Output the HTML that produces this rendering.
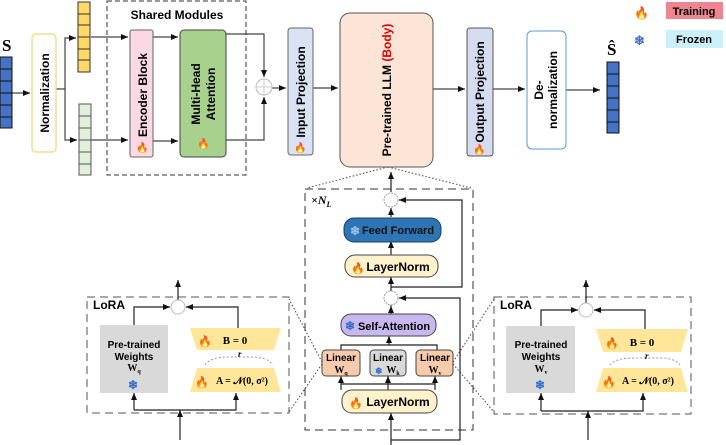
<!DOCTYPE html>
<html><head><meta charset="utf-8"><style>
html,body{margin:0;padding:0;background:#fff;width:726px;height:445px;overflow:hidden}
svg{display:block}
text{font-family:"Liberation Sans",sans-serif;font-weight:bold}
.m{font-family:"Liberation Serif",serif}
</style></head><body>
<svg width="726" height="445" viewBox="0 0 726 445" xmlns="http://www.w3.org/2000/svg">
<defs>
<marker id="a" markerWidth="8" markerHeight="8" refX="7" refY="4" orient="auto" markerUnits="userSpaceOnUse"><path d="M0,1 L7,4 L0,7 Z" fill="#111"/></marker>
</defs>
<g stroke="#444" stroke-width="1.2" fill="none">
<!-- top flow -->
<line x1="12" y1="93" x2="30" y2="93" marker-end="url(#a)"/>
<polyline points="56,89 65,89 65,38 76,38" marker-end="url(#a)"/>
<polyline points="65,89 65,140 77,140" marker-end="url(#a)"/>
<line x1="91" y1="37" x2="128" y2="37" marker-end="url(#a)"/>
<line x1="91" y1="140" x2="128" y2="140" marker-end="url(#a)"/>
<line x1="153" y1="37" x2="178" y2="37" marker-end="url(#a)"/>
<line x1="153" y1="141" x2="178" y2="141" marker-end="url(#a)"/>
<polyline points="226,34 264,34 264,77" marker-end="url(#a)"/>
<polyline points="226,140 264,140 264,97" marker-end="url(#a)"/>
<line x1="272" y1="88" x2="286" y2="88" marker-end="url(#a)"/>
<line x1="313" y1="88" x2="338" y2="88" marker-end="url(#a)"/>
<line x1="433" y1="89" x2="465" y2="89" marker-end="url(#a)"/>
<line x1="493" y1="89" x2="525" y2="89" marker-end="url(#a)"/>
<line x1="566" y1="90" x2="600" y2="90" marker-end="url(#a)"/>
</g>
<text x="2" y="51" class="m" font-size="17">S</text>
<g stroke="#111" stroke-width="1" fill="#4472c4">
<rect x="0" y="57" width="12" height="71"/>
<line x1="0" y1="69" x2="12" y2="69"/><line x1="0" y1="81" x2="12" y2="81"/><line x1="0" y1="93" x2="12" y2="93"/><line x1="0" y1="105" x2="12" y2="105"/><line x1="0" y1="117" x2="12" y2="117"/>
</g>
<rect x="32" y="34" width="24" height="118" rx="4" fill="#fff" stroke="#f5d57a" stroke-width="1.2"/>
<text transform="translate(49,93) rotate(-90)" text-anchor="middle" font-size="12">Normalization</text>
<g stroke="#333" stroke-width="1" fill="#ffd966">
<rect x="78" y="2" width="12" height="70"/>
<line x1="78" y1="14" x2="90" y2="14"/><line x1="78" y1="25" x2="90" y2="25"/><line x1="78" y1="37" x2="90" y2="37"/><line x1="78" y1="49" x2="90" y2="49"/><line x1="78" y1="60" x2="90" y2="60"/>
</g>
<g stroke="#555" stroke-width="1" fill="#e2efda">
<rect x="79" y="104" width="12" height="71"/>
<line x1="79" y1="116" x2="91" y2="116"/><line x1="79" y1="128" x2="91" y2="128"/><line x1="79" y1="140" x2="91" y2="140"/><line x1="79" y1="152" x2="91" y2="152"/><line x1="79" y1="164" x2="91" y2="164"/>
</g>
<rect x="107" y="1" width="139" height="174" fill="none" stroke="#333" stroke-dasharray="5,3"/>
<text x="177" y="19" text-anchor="middle" font-size="12">Shared Modules</text>
<rect x="130" y="30" width="23" height="127" rx="2" fill="#fbd9e4" stroke="#666"/>
<text transform="translate(147,95) rotate(-90)" text-anchor="middle" font-size="12">Encoder Block</text>
<text x="136" y="151" font-size="10" fill="#f04010">🔥</text>
<rect x="180" y="30" width="46" height="127" rx="4" fill="#a9d18e" stroke="#444"/>
<text transform="translate(200,94) rotate(-90)" text-anchor="middle" font-size="12">Multi-Head</text>
<text transform="translate(215,94) rotate(-90)" text-anchor="middle" font-size="12">Attention</text>
<text x="197" y="147" font-size="10" fill="#f04010">🔥</text>
<circle cx="264" cy="87" r="8" fill="#fff" stroke="#bbb"/>
<line x1="256" y1="87" x2="272" y2="87" stroke="#ccc"/><line x1="264" y1="79" x2="264" y2="95" stroke="#ccc"/>
<rect x="288" y="28" width="25" height="127" rx="3" fill="#dae3f3" stroke="#666"/>
<text transform="translate(305,92) rotate(-90)" text-anchor="middle" font-size="12">Input Projection</text>
<text x="294" y="151" font-size="10" fill="#f04010">🔥</text>
<rect x="340" y="13" width="93" height="154" rx="10" fill="#fce4d6" stroke="#555"/>
<text transform="translate(391,90) rotate(-90)" text-anchor="middle" font-size="12">Pre-trained LLM <tspan fill="#e00000">(Body)</tspan></text>
<rect x="467" y="28" width="26" height="128" rx="3" fill="#d6dcef" stroke="#555"/>
<text transform="translate(484,92) rotate(-90)" text-anchor="middle" font-size="12">Output Projection</text>
<text x="473" y="153" font-size="10" fill="#f04010">🔥</text>
<rect x="527" y="31" width="39" height="118" rx="5" fill="#fff" stroke="#5b9bd5"/>
<text transform="translate(543,90) rotate(-90)" text-anchor="middle" font-size="12">De-</text>
<text transform="translate(557,90) rotate(-90)" text-anchor="middle" font-size="12">normalization</text>
<text x="607" y="55" class="m" font-size="17">Ŝ</text>
<g stroke="#111" stroke-width="1" fill="#4472c4">
<rect x="607" y="62" width="12" height="71"/>
<line x1="607" y1="74" x2="619" y2="74"/><line x1="607" y1="86" x2="619" y2="86"/><line x1="607" y1="98" x2="619" y2="98"/><line x1="607" y1="110" x2="619" y2="110"/><line x1="607" y1="122" x2="619" y2="122"/>
</g>
<text x="634" y="17" font-size="12" fill="#f04010">🔥</text>
<rect x="666" y="2" width="57" height="17" fill="#ee8590"/>
<text x="694" y="15" text-anchor="middle" font-size="11">Training</text>
<text x="634" y="45" font-size="13" fill="#4472c4">❄</text>
<rect x="666" y="30" width="57" height="18" fill="#ccf0fa"/>
<text x="694" y="43" text-anchor="middle" font-size="11">Frozen</text>
<!-- dotted expansions -->
<g stroke="#444" stroke-dasharray="1.5,2" fill="none">
<line x1="388" y1="167" x2="307" y2="188"/><line x1="388" y1="167" x2="471" y2="188"/>
<line x1="322" y1="362" x2="289" y2="299"/><line x1="322" y1="364" x2="289" y2="412"/>
<line x1="453" y1="362" x2="494" y2="299"/><line x1="453" y1="364" x2="494" y2="412"/>
</g>
<!-- center -->
<rect x="305" y="189" width="168" height="241" fill="none" stroke="#333" stroke-dasharray="8,5"/>
<text x="311" y="204" class="m" font-size="12" font-style="italic" font-weight="normal">×N<tspan font-size="8" dy="3">L</tspan></text>
<g stroke="#222" stroke-width="1.2" fill="none">
<line x1="391" y1="192" x2="391" y2="172" marker-end="url(#a)"/>
<polyline points="391,287 462,287 462,200 399,200" marker-end="url(#a)"/>
<polyline points="391,440 460,440 460,298 399,298" marker-end="url(#a)"/>
<line x1="391" y1="217" x2="391" y2="208" marker-end="url(#a)"/>
<line x1="391" y1="255" x2="391" y2="241" marker-end="url(#a)"/>
<line x1="391" y1="306" x2="391" y2="277" marker-end="url(#a)" />
<line x1="391" y1="314" x2="391" y2="306" marker-end="url(#a)"/>
<polyline points="341,350 341,345 437,345 437,350"/>
<line x1="389" y1="345" x2="389" y2="336" marker-end="url(#a)"/>
<polyline points="342,348 342,348"/>
<line x1="341" y1="390" x2="341" y2="376" marker-end="url(#a)"/>
<line x1="388" y1="390" x2="388" y2="376" marker-end="url(#a)"/>
<line x1="435" y1="390" x2="435" y2="376" marker-end="url(#a)"/>
<line x1="341" y1="384" x2="435" y2="384"/>
<line x1="391" y1="445" x2="391" y2="413" marker-end="url(#a)"/>
</g>
<circle cx="391" cy="200" r="7" fill="#fff" stroke="#999" stroke-dasharray="2,1"/>
<circle cx="391" cy="298" r="7" fill="#fff" stroke="#999" stroke-dasharray="2,1"/>
<rect x="344" y="218" width="97" height="24" rx="10" fill="#2e75b6" stroke="#1f3f66"/>
<text x="350" y="235" font-size="12" fill="#9dc3e6">❄</text>
<text x="398" y="234" text-anchor="middle" font-size="11" fill="#111">Feed Forward</text>
<rect x="345" y="255" width="93" height="22" rx="10" fill="#fff2cc" stroke="#444"/>
<text x="351" y="272" font-size="11" fill="#f04010">🔥</text>
<text x="398" y="271" text-anchor="middle" font-size="12">LayerNorm</text>
<rect x="341" y="314" width="95" height="22" rx="10" fill="#c9b8f0" stroke="#444"/>
<text x="345" y="330" font-size="12" fill="#2f6ccf">❄</text>
<text x="394" y="330" text-anchor="middle" font-size="11">Self-Attention</text>
<rect x="322" y="350" width="38" height="26" rx="4" fill="#f8cbad" stroke="#444"/>
<text x="341" y="361" text-anchor="middle" font-size="10">Linear</text>
<text x="341" y="373" text-anchor="middle" class="m" font-size="10">W<tspan font-size="6" dy="2">q</tspan></text>
<rect x="370" y="350" width="36" height="26" rx="4" fill="#d9d9d9" stroke="#444"/>
<text x="388" y="361" text-anchor="middle" font-size="10">Linear</text>
<text x="375" y="374" font-size="9" fill="#2f6ccf">❄</text>
<text x="393" y="373" text-anchor="middle" class="m" font-size="10">W<tspan font-size="6" dy="2">k</tspan></text>
<rect x="416" y="350" width="37" height="26" rx="4" fill="#f8cbad" stroke="#444"/>
<text x="435" y="361" text-anchor="middle" font-size="10">Linear</text>
<text x="435" y="373" text-anchor="middle" class="m" font-size="10">W<tspan font-size="6" dy="2">v</tspan></text>
<rect x="342" y="390" width="95" height="23" rx="10" fill="#fff2cc" stroke="#444"/>
<text x="349" y="407" font-size="11" fill="#f04010">🔥</text>
<text x="398" y="406" text-anchor="middle" font-size="12">LayerNorm</text>
<!-- left LoRA -->
<g>
<rect x="87" y="297" width="202" height="116" fill="none" stroke="#555" stroke-dasharray="8,5"/>
<text x="93" y="309" font-size="12">LoRA</text>
<g stroke="#222" stroke-width="1.2" fill="none">
<polyline points="134,325 134,307 170,307" marker-end="url(#a)"/>
<polyline points="238,328 238,307 186,307" marker-end="url(#a)"/>
<line x1="178" y1="300" x2="178" y2="280" marker-end="url(#a)"/>
<polyline points="134,410 134,393" marker-end="url(#a)"/>
<polyline points="134,410 236,410 236,393" marker-end="url(#a)"/>
<line x1="180" y1="440" x2="180" y2="410" marker-end="url(#a)"/>
</g>
<circle cx="178" cy="307" r="7" fill="#fff" stroke="#bbb"/>
<rect x="100" y="325" width="68" height="68" fill="#d9d9d9"/>
<text x="134" y="348" text-anchor="middle" font-size="10">Pre-trained</text>
<text x="134" y="360" text-anchor="middle" font-size="10">Weights</text>
<text x="134" y="371" text-anchor="middle" class="m" font-size="10">W<tspan font-size="6" dy="2">q</tspan></text>
<text x="128" y="389" font-size="12" fill="#2f6ccf">❄</text>
<polygon points="190,328 281,328 274,350 197,350" fill="#ffe699"/>
<text x="198" y="345" font-size="11" fill="#f04010">🔥</text>
<text x="235" y="344" text-anchor="middle" class="m" font-size="11">B = 0</text>
<path d="M205,365 Q210,357 230,357 L250,357 Q268,357 273,365" fill="none" stroke="#999" stroke-dasharray="2,2"/>
<text x="238" y="357" class="m" font-size="9" font-style="italic" font-weight="normal">r</text>
<polygon points="197,368 274,368 281,392 190,392" fill="#ffe699"/>
<text x="195" y="386" font-size="11" fill="#f04010">🔥</text>
<text x="242" y="384" text-anchor="middle" class="m" font-size="10">A = 𝒩(0, σ²)</text>
</g>
<!-- right LoRA -->
<g>
<rect x="494" y="297" width="197" height="117" fill="none" stroke="#555" stroke-dasharray="8,5"/>
<text x="500" y="309" font-size="12">LoRA</text>
<g stroke="#222" stroke-width="1.2" fill="none">
<polyline points="541,326 541,310 578,310" marker-end="url(#a)"/>
<polyline points="645,329 645,310 594,310" marker-end="url(#a)"/>
<line x1="586" y1="303" x2="586" y2="280" marker-end="url(#a)"/>
<polyline points="541,411 541,393" marker-end="url(#a)"/>
<polyline points="541,411 643,411 643,393" marker-end="url(#a)"/>
<line x1="588" y1="440" x2="588" y2="411" marker-end="url(#a)"/>
</g>
<circle cx="586" cy="310" r="7" fill="#fff" stroke="#bbb"/>
<rect x="506" y="326" width="69" height="67" fill="#d9d9d9"/>
<text x="541" y="348" text-anchor="middle" font-size="10">Pre-trained</text>
<text x="541" y="360" text-anchor="middle" font-size="10">Weights</text>
<text x="541" y="372" text-anchor="middle" class="m" font-size="10">W<tspan font-size="6" dy="2">v</tspan></text>
<text x="535" y="389" font-size="12" fill="#2f6ccf">❄</text>
<polygon points="596,329 688,329 681,352 603,352" fill="#ffe699"/>
<text x="605" y="347" font-size="11" fill="#f04010">🔥</text>
<text x="642" y="346" text-anchor="middle" class="m" font-size="11">B = 0</text>
<path d="M610,365 Q615,358 635,358 L660,358 Q675,358 680,365" fill="none" stroke="#999" stroke-dasharray="2,2"/>
<text x="645" y="359" class="m" font-size="9" font-style="italic" font-weight="normal">r</text>
<polygon points="603,368 681,368 688,392 596,392" fill="#ffe699"/>
<text x="602" y="386" font-size="11" fill="#f04010">🔥</text>
<text x="648" y="384" text-anchor="middle" class="m" font-size="10">A = 𝒩(0, σ²)</text>
</g>
</svg>
</body></html>
